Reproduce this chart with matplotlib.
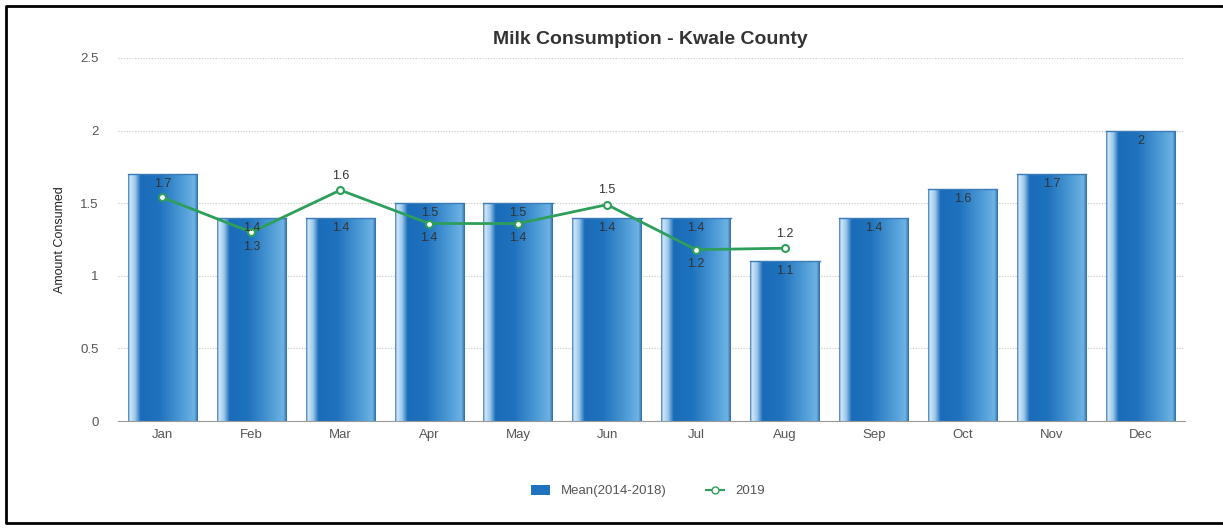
import numpy as np
import matplotlib.pyplot as plt
from matplotlib.colors import LinearSegmentedColormap
from matplotlib.lines import Line2D
from matplotlib.patches import Patch

# chart data
months = ['Jan', 'Feb', 'Mar', 'Apr', 'May', 'Jun', 'Jul', 'Aug', 'Sep', 'Oct', 'Nov', 'Dec']
mean_2014_2018 = [1.7, 1.4, 1.4, 1.5, 1.5, 1.4, 1.4, 1.1, 1.4, 1.6, 1.7, 2.0]
year_2019 = [1.54, 1.3, 1.59, 1.36, 1.36, 1.49, 1.18, 1.19]
label_pos_2019 = ['none', 'below', 'above', 'below', 'below', 'above', 'below', 'above']

plt.rcParams['font.family'] = ['Liberation Sans', 'DejaVu Sans']

fig = plt.figure(figsize=(12.23, 5.29), dpi=100)
ax = fig.add_axes([118 / 1223, 1 - 421 / 529, (1185 - 118) / 1223, (421 - 58) / 529])

# cylinder-ish gradient for the bars
cmap = LinearSegmentedColormap.from_list('cyl', [
    (0.0, '#3f7fbf'), (0.03, '#cfe6f7'), (0.1, '#9cc8ec'), (0.18, '#1a6cb8'),
    (0.45, '#1f72bd'), (0.85, '#5aa5dc'), (0.95, '#6fb2e3'), (1.0, '#2d6ea8')])
grad = np.linspace(0, 1, 256).reshape(1, -1)

x = np.arange(len(months))
width = 0.78
bars = ax.bar(x, mean_2014_2018, width, color='none', edgecolor='none', zorder=2)
for b in bars:
    x0, w, h = b.get_x(), b.get_width(), b.get_height()
    im = ax.imshow(grad, cmap=cmap, aspect='auto', extent=(x0, x0 + w, 0, h), zorder=2)
    im.set_clip_path(b)
    ax.add_line(Line2D([x0, x0 + w], [h, h], color='#3a7bb8', lw=1.0, zorder=3))
    ax.text(b.get_x() + w / 2, h - 0.07, f'{h:g}', ha='center', va='center',
            fontsize=9, color='#333333', zorder=5)

ax.plot(x[:len(year_2019)], year_2019, color='#2e9e5b', lw=2, marker='o', ms=5,
        mfc='white', mec='#2e9e5b', mew=1.5, zorder=4)
for xi, v, p in zip(x, year_2019, label_pos_2019):
    if p == 'none':
        continue
    dy = 0.1 if p == 'above' else -0.1
    ax.text(xi, v + dy, f'{v:.1f}', ha='center', va='center', fontsize=9,
            color='#333333', zorder=5)

ax.set_xlim(-0.5, len(months) - 0.5)
ax.set_ylim(0, 2.5)
ax.set_yticks([0, 0.5, 1, 1.5, 2, 2.5])
ax.set_yticklabels(['0', '0.5', '1', '1.5', '2', '2.5'])
ax.set_xticks(x)
ax.set_xticklabels(months)
ax.tick_params(axis='both', labelsize=9.5, colors='#555555', length=0, pad=6)
ax.tick_params(axis='y', pad=14)
ax.grid(axis='y', linestyle=(0, (1, 1.5)), color='#c8c8c8', lw=0.8, zorder=0)
ax.set_axisbelow(True)
for s in ['top', 'right', 'left']:
    ax.spines[s].set_visible(False)
ax.spines['bottom'].set_color('#999999')
ax.spines['bottom'].set_linewidth(0.8)

ax.set_ylabel('Amount Consumed', fontsize=9, color='#222222', labelpad=10)
fig.text(650 / 1223, 1 - 39 / 529, 'Milk Consumption - Kwale County', ha='center',
         va='center', fontsize=14, fontweight='bold', color='#333333')

handles = [Patch(facecolor='#1f72bd', edgecolor='none'),
           Line2D([], [], color='#2e9e5b', lw=1.5, marker='o', ms=5, mfc='white',
                  mec='#2e9e5b')]
fig.legend(handles, ['Mean(2014-2018)', '2019'], loc='center',
           bbox_to_anchor=(648 / 1223, 1 - 491 / 529), ncol=2, frameon=False,
           fontsize=9.5, labelcolor='#555555', handlelength=1.4, columnspacing=3,
           handleheight=0.8)

# outer frame (left, top, bottom)
fx0, fy0, fy1 = 6 / 1223, 6 / 529, 1 - 6 / 529
fig.add_artist(Line2D([1.01, fx0, fx0, 1.01], [fy1, fy1, fy0, fy0],
                      transform=fig.transFigure, color='black', lw=2))

fig.savefig('out.png', dpi=100)
